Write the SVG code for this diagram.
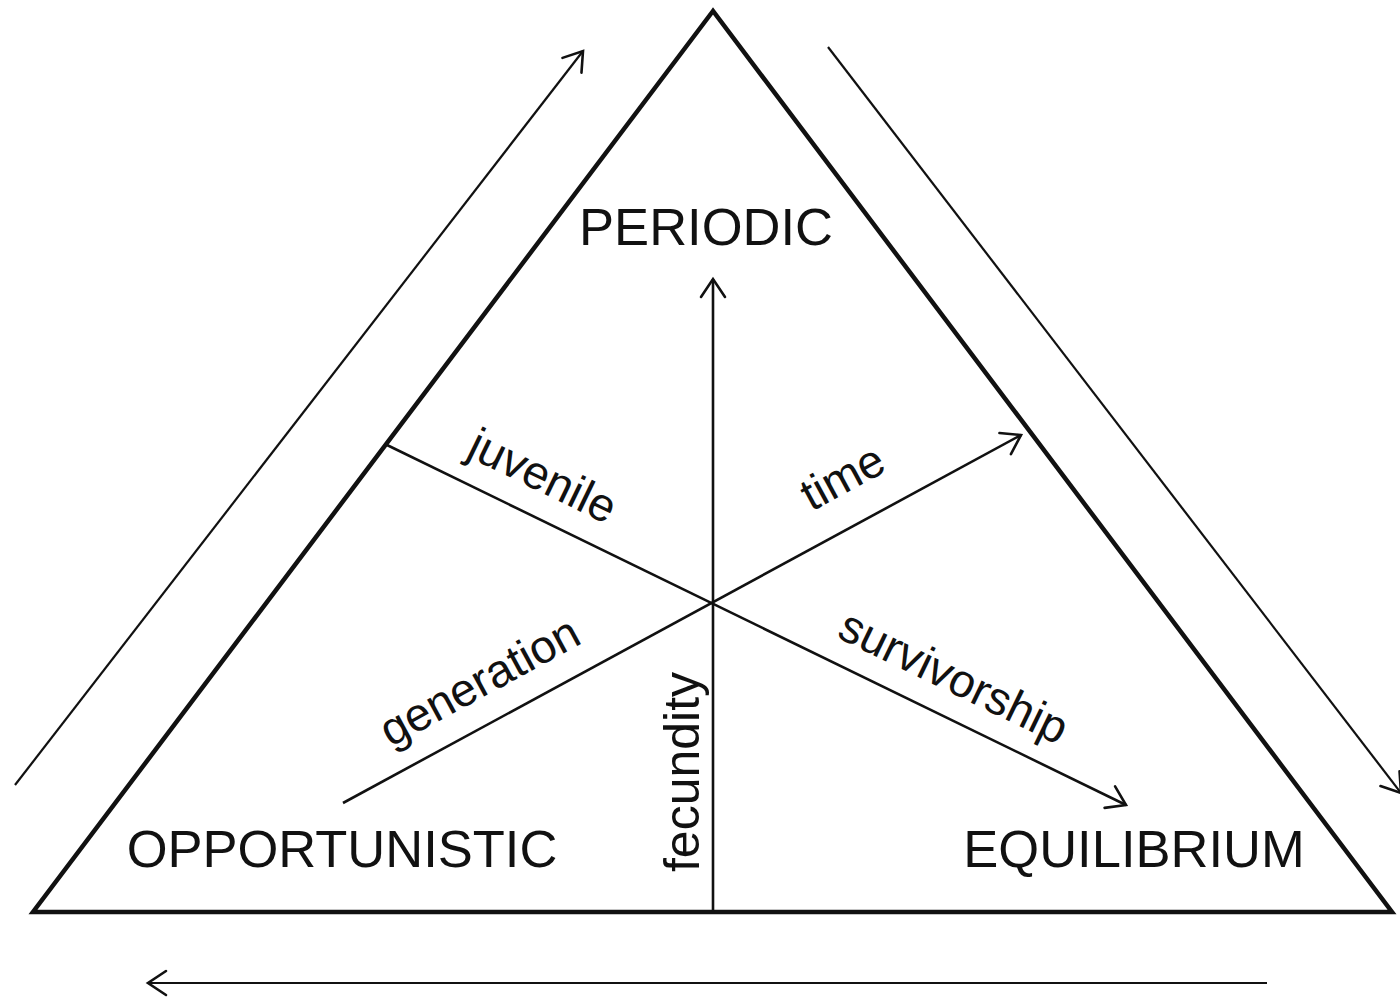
<svg xmlns="http://www.w3.org/2000/svg" width="1400" height="998" viewBox="0 0 1400 998">
<defs>
<style>
.lbl{font-family:"Liberation Sans",Arial,sans-serif;fill:#111;}
.cap{font-size:52.5px;}
.sm{font-size:46.5px;}
.ln{stroke:#111;fill:none;stroke-width:2.6;}
.out{stroke:#111;fill:none;stroke-width:2.2;}
</style>
<marker id="ah" markerUnits="userSpaceOnUse" markerWidth="40" markerHeight="40" refX="20" refY="20" orient="auto" viewBox="0 0 40 40">
<path d="M2,8 L20,20 L2,32" fill="none" stroke="#111" stroke-width="2.6" stroke-linecap="round" stroke-linejoin="miter"/>
</marker>
</defs>
<rect width="1400" height="998" fill="#fff"/>
<g id="triangle">
<polygon points="713,11 33,912 1392,912" fill="none" stroke="#111" stroke-width="4.5" stroke-linejoin="miter"/>
</g>
<g id="connectors">
<line class="ln" x1="713" y1="912" x2="713" y2="279" marker-end="url(#ah)"/>
<line class="ln" x1="387" y1="445" x2="1126" y2="805" marker-end="url(#ah)"/>
<line class="ln" x1="343" y1="803" x2="1021" y2="435" marker-end="url(#ah)"/>
<line class="out" x1="15" y1="785" x2="583" y2="51" marker-end="url(#ah)"/>
<line class="out" x1="828" y1="47" x2="1401" y2="793" marker-end="url(#ah)"/>
<line class="out" x1="1267" y1="983" x2="148" y2="983" marker-end="url(#ah)"/>
</g>
<g id="periodic"><text class="lbl cap" x="706" y="245" text-anchor="middle">PERIODIC</text></g>
<g id="opportunistic"><text class="lbl cap" x="342" y="867" text-anchor="middle">OPPORTUNISTIC</text></g>
<g id="equilibrium"><text class="lbl cap" x="1134" y="867" text-anchor="middle">EQUILIBRIUM</text></g>
<g id="juvenile"><text class="lbl sm" text-anchor="middle" transform="translate(536,490) rotate(25.9)">juvenile</text></g>
<g id="time"><text class="lbl sm" text-anchor="middle" transform="translate(850,491) rotate(-28.5)">time</text></g>
<g id="survivorship"><text class="lbl sm" text-anchor="middle" transform="translate(947,691) rotate(25.9)">survivorship</text></g>
<g id="generation"><text class="lbl sm" text-anchor="middle" transform="translate(487,695) rotate(-28.5)">generation</text></g>
<g id="fecundity"><text class="lbl" font-size="50" text-anchor="middle" transform="translate(699,772) rotate(-90)">fecundity</text></g>
</svg>
